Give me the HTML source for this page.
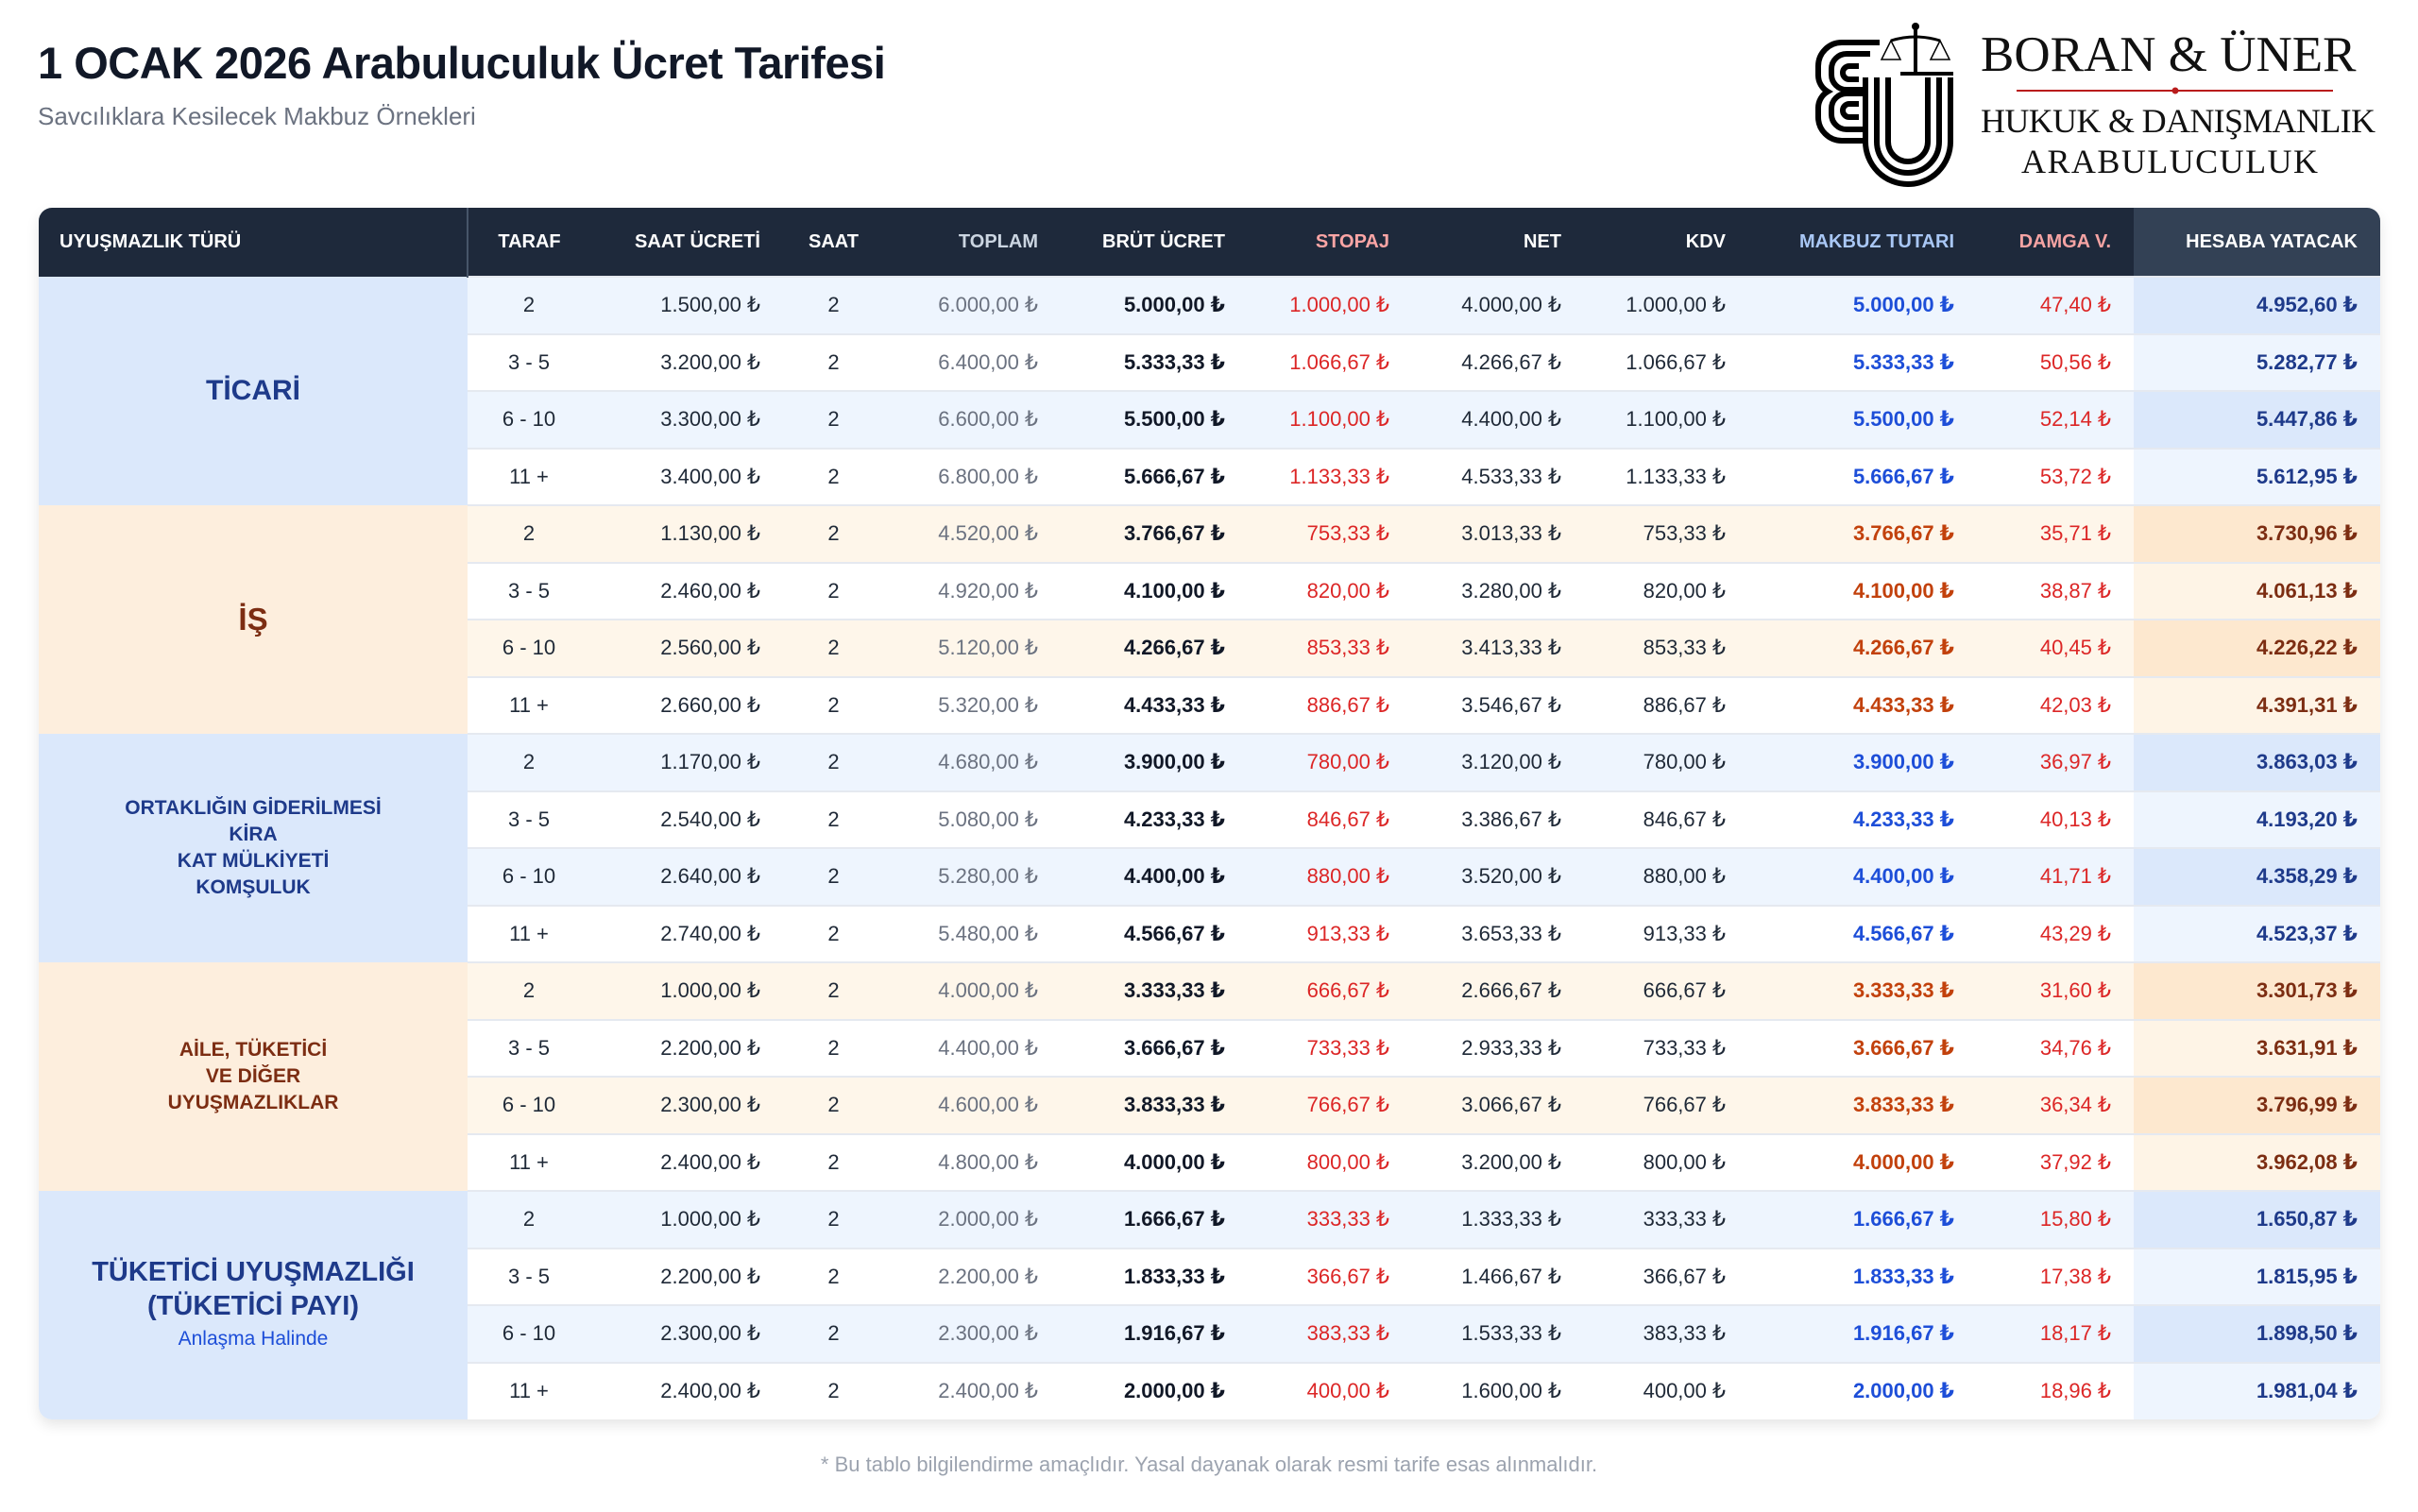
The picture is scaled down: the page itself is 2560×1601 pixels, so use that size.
<!DOCTYPE html>
<html><head><meta charset="utf-8">
<style>
*{box-sizing:border-box;margin:0;padding:0}
body{width:2560px;height:1601px;background:#fff;font-family:"Liberation Sans","DejaVu Sans",sans-serif;position:relative;overflow:hidden;color:#1f2937}
h1{position:absolute;left:40px;top:39px;font-size:47px;font-weight:bold;color:#111827;letter-spacing:-0.5px}
.sub{position:absolute;left:40px;top:108px;font-size:26px;color:#6b7280}
.wrap{position:absolute;left:41px;top:220px;width:2479px;border-radius:14px;overflow:hidden;box-shadow:0 6px 14px rgba(0,0,0,0.10)}
table{border-collapse:collapse;table-layout:fixed;width:2479px}
th{height:73px;background:#1e293b;color:#fff;font-size:20px;font-weight:bold;text-align:right;padding-right:20px}
th.l{text-align:left;padding-left:22px;border-right:2px solid #475569}
th.c,td.c{text-align:center;padding-right:0}
td{height:60.5px;font-size:22px;text-align:right;padding-right:20px;border-top:2px solid #e5e9f0;white-space:nowrap}
tr td{background:#fff}
.b.s td{background:#eef5fe}
.o.s td{background:#fef6ea}
table tr.b td.g{background:#dbe8fb;color:#1e3a8a}
table tr.o td.g{background:#fdeedd;color:#7c2d12}
td.g{text-align:center;padding:0;font-weight:bold;border-top:none}
.t{color:#6b7280}
.br{font-weight:bold;color:#111827}
.st{color:#dc2626}
.mk{font-weight:bold;color:#1d4ed8}
.o .mk{color:#c2410c}
.dm{color:#dc2626;padding-right:24px}
.hy{font-weight:bold;color:#1e3a8a;padding-right:24px}
.o .hy{color:#7c2d12}
table tr.b td.hy{background:#eef5fe}
table tr.b.s td.hy{background:#dbe8fb}
table tr.o td.hy{background:#fef4e6}
table tr.o.s td.hy{background:#fde8cf}
.foot{position:absolute;left:0;width:2560px;top:1538px;text-align:center;font-size:22px;color:#9ca3af}
</style></head><body>
<h1>1 OCAK 2026 Arabuluculuk Ücret Tarifesi</h1>
<div class="sub">Savcılıklara Kesilecek Makbuz Örnekleri</div>

<svg style="position:absolute;left:1910px;top:15px" width="620" height="185" viewBox="1910 15 620 185">
 <g fill="none" stroke="#000" stroke-width="6">
  <path d="M1975 82 V150 a45 45 0 0 0 90 0 V82"/>
  <path d="M1987 82 V150 a33 33 0 0 0 66 0 V82"/>
  <path d="M1999 82 V150 a21 21 0 0 0 42 0 V82"/>
  <path d="M1990 45 H1950 a25 25 0 0 0 -25 25 v10 a20 20 0 0 0 10 17 a20 20 0 0 0 -10 17 v10 a25 25 0 0 0 25 25 H1975"/>
  <path d="M1980 57 H1955 a16 16 0 0 0 -16 16 v6 a16 16 0 0 0 16 16 h20 M1975 99 h-20 a16 16 0 0 0 -16 16 v6 a16 16 0 0 0 16 16 h20"/>
  <path d="M1968 70 h-10 a6 6 0 0 0 0 14 h10 M1968 110 h-10 a6 6 0 0 0 0 14 h10"/>
  <path d="M2028 78 V30" stroke-width="4"/>
  <path d="M2002 43 Q2028 35 2054 43" stroke-width="3"/>
  <path d="M2002 43 L1992 63 H2012 Z M2054 43 L2044 63 H2064 Z" stroke-width="1.5"/>
  <path d="M2012 78 H2068" stroke-width="4"/>
 </g>
 <circle cx="2028" cy="28" r="4"/>
 <text x="2097" y="75" font-family="Liberation Serif,serif" font-size="53" fill="#111">BORAN &amp; ÜNER</text>
 <line x1="2135" y1="96" x2="2470" y2="96" stroke="#b91c1c" stroke-width="2"/>
 <circle cx="2303" cy="96" r="3.5" fill="#b91c1c"/>
 <text x="2097" y="140" font-family="Liberation Serif,serif" font-size="36" fill="#111" textLength="418">HUKUK &amp; DANIŞMANLIK</text>
 <text x="2140" y="183" font-family="Liberation Serif,serif" font-size="36" fill="#111" textLength="314">ARABULUCULUK</text>
</svg>

<div class="wrap"><table>
<colgroup><col style="width:454px"><col style="width:130px"><col style="width:200px"><col style="width:115px"><col style="width:179px"><col style="width:198px"><col style="width:174px"><col style="width:182px"><col style="width:174px"><col style="width:242px"><col style="width:170px"><col style="width:261px"></colgroup>
<tr><th class="l">UYUŞMAZLIK TÜRÜ</th><th class="c">TARAF</th><th>SAAT ÜCRETİ</th><th class="c">SAAT</th><th style="color:#cbd5e1">TOPLAM</th><th>BRÜT ÜCRET</th><th style="color:#fca5a5">STOPAJ</th><th>NET</th><th>KDV</th><th style="color:#a9c7f5">MAKBUZ TUTARI</th><th style="color:#f5a3a3;padding-right:24px">DAMGA V.</th><th style="background:#334155;padding-right:24px">HESABA YATACAK</th></tr>

<tr class="b s"><td class="g" rowspan="4" style="font-size:30px">TİCARİ</td><td class="c">2</td><td>1.500,00 ₺</td><td class="c">2</td><td class="t">6.000,00 ₺</td><td class="br">5.000,00 ₺</td><td class="st">1.000,00 ₺</td><td>4.000,00 ₺</td><td>1.000,00 ₺</td><td class="mk">5.000,00 ₺</td><td class="dm">47,40 ₺</td><td class="hy">4.952,60 ₺</td></tr>
<tr class="b"><td class="c">3 - 5</td><td>3.200,00 ₺</td><td class="c">2</td><td class="t">6.400,00 ₺</td><td class="br">5.333,33 ₺</td><td class="st">1.066,67 ₺</td><td>4.266,67 ₺</td><td>1.066,67 ₺</td><td class="mk">5.333,33 ₺</td><td class="dm">50,56 ₺</td><td class="hy">5.282,77 ₺</td></tr>
<tr class="b s"><td class="c">6 - 10</td><td>3.300,00 ₺</td><td class="c">2</td><td class="t">6.600,00 ₺</td><td class="br">5.500,00 ₺</td><td class="st">1.100,00 ₺</td><td>4.400,00 ₺</td><td>1.100,00 ₺</td><td class="mk">5.500,00 ₺</td><td class="dm">52,14 ₺</td><td class="hy">5.447,86 ₺</td></tr>
<tr class="b"><td class="c">11 +</td><td>3.400,00 ₺</td><td class="c">2</td><td class="t">6.800,00 ₺</td><td class="br">5.666,67 ₺</td><td class="st">1.133,33 ₺</td><td>4.533,33 ₺</td><td>1.133,33 ₺</td><td class="mk">5.666,67 ₺</td><td class="dm">53,72 ₺</td><td class="hy">5.612,95 ₺</td></tr>

<tr class="o s"><td class="g" rowspan="4" style="font-size:33px">İŞ</td><td class="c">2</td><td>1.130,00 ₺</td><td class="c">2</td><td class="t">4.520,00 ₺</td><td class="br">3.766,67 ₺</td><td class="st">753,33 ₺</td><td>3.013,33 ₺</td><td>753,33 ₺</td><td class="mk">3.766,67 ₺</td><td class="dm">35,71 ₺</td><td class="hy">3.730,96 ₺</td></tr>
<tr class="o"><td class="c">3 - 5</td><td>2.460,00 ₺</td><td class="c">2</td><td class="t">4.920,00 ₺</td><td class="br">4.100,00 ₺</td><td class="st">820,00 ₺</td><td>3.280,00 ₺</td><td>820,00 ₺</td><td class="mk">4.100,00 ₺</td><td class="dm">38,87 ₺</td><td class="hy">4.061,13 ₺</td></tr>
<tr class="o s"><td class="c">6 - 10</td><td>2.560,00 ₺</td><td class="c">2</td><td class="t">5.120,00 ₺</td><td class="br">4.266,67 ₺</td><td class="st">853,33 ₺</td><td>3.413,33 ₺</td><td>853,33 ₺</td><td class="mk">4.266,67 ₺</td><td class="dm">40,45 ₺</td><td class="hy">4.226,22 ₺</td></tr>
<tr class="o"><td class="c">11 +</td><td>2.660,00 ₺</td><td class="c">2</td><td class="t">5.320,00 ₺</td><td class="br">4.433,33 ₺</td><td class="st">886,67 ₺</td><td>3.546,67 ₺</td><td>886,67 ₺</td><td class="mk">4.433,33 ₺</td><td class="dm">42,03 ₺</td><td class="hy">4.391,31 ₺</td></tr>

<tr class="b s"><td class="g" rowspan="4" style="font-size:21px;line-height:28px">ORTAKLIĞIN GİDERİLMESİ<br>KİRA<br>KAT MÜLKİYETİ<br>KOMŞULUK</td><td class="c">2</td><td>1.170,00 ₺</td><td class="c">2</td><td class="t">4.680,00 ₺</td><td class="br">3.900,00 ₺</td><td class="st">780,00 ₺</td><td>3.120,00 ₺</td><td>780,00 ₺</td><td class="mk">3.900,00 ₺</td><td class="dm">36,97 ₺</td><td class="hy">3.863,03 ₺</td></tr>
<tr class="b"><td class="c">3 - 5</td><td>2.540,00 ₺</td><td class="c">2</td><td class="t">5.080,00 ₺</td><td class="br">4.233,33 ₺</td><td class="st">846,67 ₺</td><td>3.386,67 ₺</td><td>846,67 ₺</td><td class="mk">4.233,33 ₺</td><td class="dm">40,13 ₺</td><td class="hy">4.193,20 ₺</td></tr>
<tr class="b s"><td class="c">6 - 10</td><td>2.640,00 ₺</td><td class="c">2</td><td class="t">5.280,00 ₺</td><td class="br">4.400,00 ₺</td><td class="st">880,00 ₺</td><td>3.520,00 ₺</td><td>880,00 ₺</td><td class="mk">4.400,00 ₺</td><td class="dm">41,71 ₺</td><td class="hy">4.358,29 ₺</td></tr>
<tr class="b"><td class="c">11 +</td><td>2.740,00 ₺</td><td class="c">2</td><td class="t">5.480,00 ₺</td><td class="br">4.566,67 ₺</td><td class="st">913,33 ₺</td><td>3.653,33 ₺</td><td>913,33 ₺</td><td class="mk">4.566,67 ₺</td><td class="dm">43,29 ₺</td><td class="hy">4.523,37 ₺</td></tr>

<tr class="o s"><td class="g" rowspan="4" style="font-size:21px;line-height:28px">AİLE, TÜKETİCİ<br>VE DİĞER<br>UYUŞMAZLIKLAR</td><td class="c">2</td><td>1.000,00 ₺</td><td class="c">2</td><td class="t">4.000,00 ₺</td><td class="br">3.333,33 ₺</td><td class="st">666,67 ₺</td><td>2.666,67 ₺</td><td>666,67 ₺</td><td class="mk">3.333,33 ₺</td><td class="dm">31,60 ₺</td><td class="hy">3.301,73 ₺</td></tr>
<tr class="o"><td class="c">3 - 5</td><td>2.200,00 ₺</td><td class="c">2</td><td class="t">4.400,00 ₺</td><td class="br">3.666,67 ₺</td><td class="st">733,33 ₺</td><td>2.933,33 ₺</td><td>733,33 ₺</td><td class="mk">3.666,67 ₺</td><td class="dm">34,76 ₺</td><td class="hy">3.631,91 ₺</td></tr>
<tr class="o s"><td class="c">6 - 10</td><td>2.300,00 ₺</td><td class="c">2</td><td class="t">4.600,00 ₺</td><td class="br">3.833,33 ₺</td><td class="st">766,67 ₺</td><td>3.066,67 ₺</td><td>766,67 ₺</td><td class="mk">3.833,33 ₺</td><td class="dm">36,34 ₺</td><td class="hy">3.796,99 ₺</td></tr>
<tr class="o"><td class="c">11 +</td><td>2.400,00 ₺</td><td class="c">2</td><td class="t">4.800,00 ₺</td><td class="br">4.000,00 ₺</td><td class="st">800,00 ₺</td><td>3.200,00 ₺</td><td>800,00 ₺</td><td class="mk">4.000,00 ₺</td><td class="dm">37,92 ₺</td><td class="hy">3.962,08 ₺</td></tr>

<tr class="b s"><td class="g" rowspan="4" style="font-size:29px;line-height:36px">TÜKETİCİ UYUŞMAZLIĞI<br>(TÜKETİCİ PAYI)<div style="font-size:21px;font-weight:normal;color:#1d4ed8;line-height:34px">Anlaşma Halinde</div></td><td class="c">2</td><td>1.000,00 ₺</td><td class="c">2</td><td class="t">2.000,00 ₺</td><td class="br">1.666,67 ₺</td><td class="st">333,33 ₺</td><td>1.333,33 ₺</td><td>333,33 ₺</td><td class="mk">1.666,67 ₺</td><td class="dm">15,80 ₺</td><td class="hy">1.650,87 ₺</td></tr>
<tr class="b"><td class="c">3 - 5</td><td>2.200,00 ₺</td><td class="c">2</td><td class="t">2.200,00 ₺</td><td class="br">1.833,33 ₺</td><td class="st">366,67 ₺</td><td>1.466,67 ₺</td><td>366,67 ₺</td><td class="mk">1.833,33 ₺</td><td class="dm">17,38 ₺</td><td class="hy">1.815,95 ₺</td></tr>
<tr class="b s"><td class="c">6 - 10</td><td>2.300,00 ₺</td><td class="c">2</td><td class="t">2.300,00 ₺</td><td class="br">1.916,67 ₺</td><td class="st">383,33 ₺</td><td>1.533,33 ₺</td><td>383,33 ₺</td><td class="mk">1.916,67 ₺</td><td class="dm">18,17 ₺</td><td class="hy">1.898,50 ₺</td></tr>
<tr class="b"><td class="c">11 +</td><td>2.400,00 ₺</td><td class="c">2</td><td class="t">2.400,00 ₺</td><td class="br">2.000,00 ₺</td><td class="st">400,00 ₺</td><td>1.600,00 ₺</td><td>400,00 ₺</td><td class="mk">2.000,00 ₺</td><td class="dm">18,96 ₺</td><td class="hy">1.981,04 ₺</td></tr>
</table></div>

<div class="foot">* Bu tablo bilgilendirme amaçlıdır. Yasal dayanak olarak resmi tarife esas alınmalıdır.</div>
</body></html>
